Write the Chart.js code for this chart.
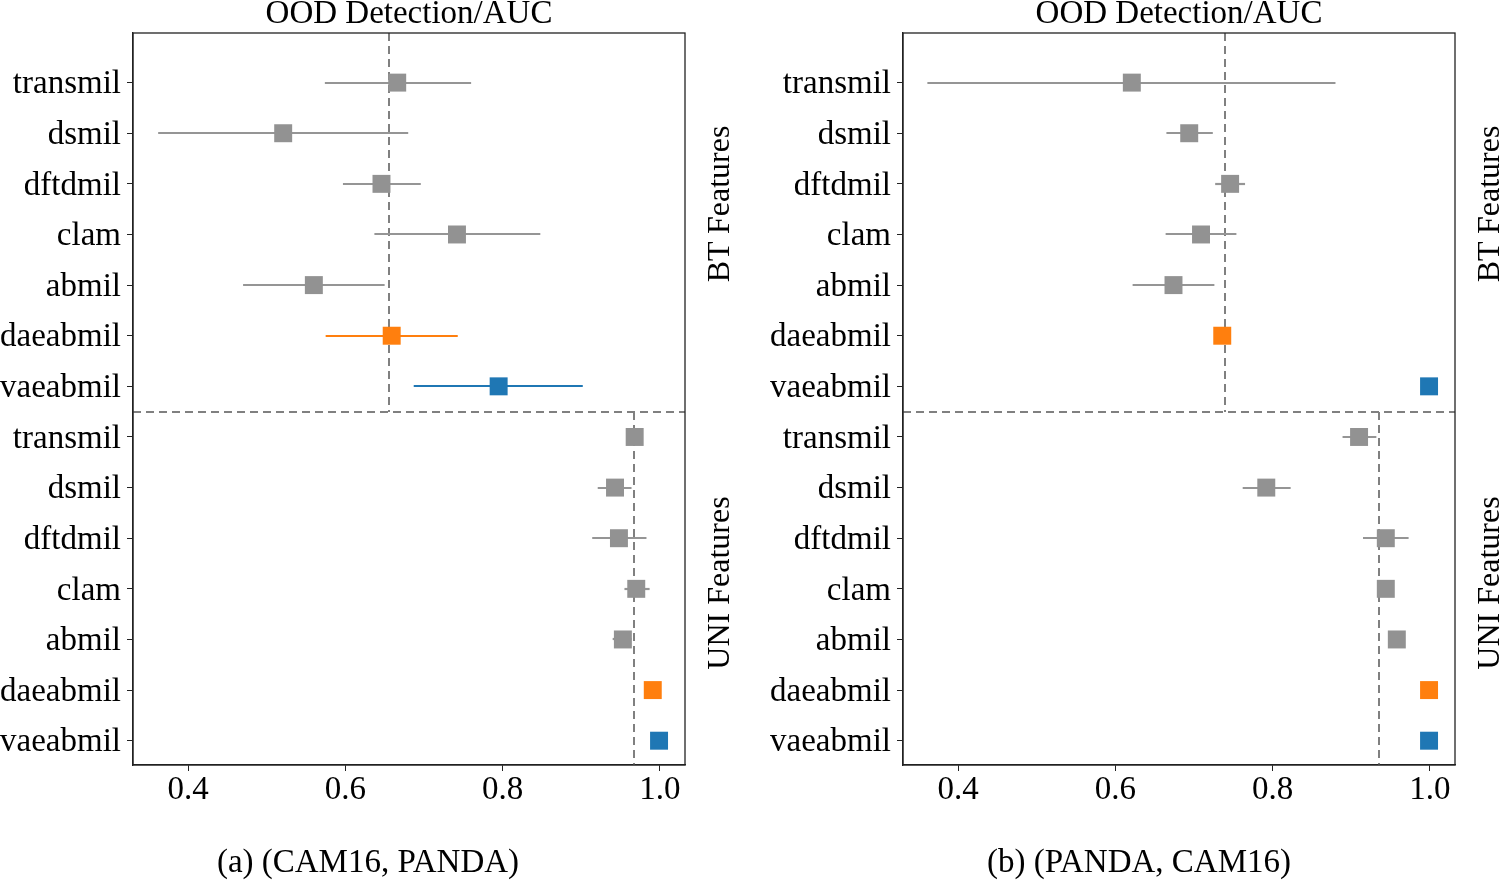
<!DOCTYPE html>
<html><head><meta charset="utf-8">
<script src="https://cdn.jsdelivr.net/npm/chart.js@4.4.0/dist/chart.umd.min.js"></script>
<style>
html,body{margin:0;padding:0;background:#fff;}
body{width:1500px;height:881px;position:relative;overflow:hidden;font-family:'Liberation Serif','Times New Roman',serif;color:#000;}
canvas{position:absolute;top:0;}
.txt{position:absolute;font-size:33px;line-height:33px;white-space:nowrap;transform:translateX(-50%);}
.side{position:absolute;font-size:32px;line-height:32px;white-space:nowrap;transform:translate(-50%,-50%) rotate(-90deg);}
</style></head><body>
<canvas id="c1" width="750" height="881" style="left:0"></canvas>
<canvas id="c2" width="730" height="881" style="left:770px"></canvas>
<div class="txt" style="left:409px;top:-4px">OOD Detection/AUC</div>
<div class="txt" style="left:1179px;top:-4px">OOD Detection/AUC</div>
<div class="txt" style="left:368px;top:845px">(a) (CAM16, PANDA)</div>
<div class="txt" style="left:1139px;top:845px">(b) (PANDA, CAM16)</div>
<div class="side" style="left:718px;top:204px">BT Features</div>
<div class="side" style="left:718px;top:583px">UNI Features</div>
<div class="side" style="left:1488px;top:204px">BT Features</div>
<div class="side" style="left:1488px;top:583px">UNI Features</div>
<script>
// ---- data ----
const models = ['transmil','dsmil','dftdmil','clam','abmil','daeabmil','vaeabmil'];
const rowLabels = models.concat(models);
const xTicks = [0.4, 0.6, 0.8, 1.0];

// panel (a) (CAM16, PANDA)
const aBTMean = [0.666, 0.521, 0.646, 0.742, 0.560, 0.659, 0.795];
const aBTLow  = [0.574, 0.362, 0.597, 0.637, 0.470, 0.575, 0.687];
const aBTHigh = [0.760, 0.680, 0.696, 0.848, 0.650, 0.743, 0.902];
const aUNIMean = [0.968, 0.943, 0.948, 0.970, 0.953, 0.991, 0.999];
const aUNILow  = [0.963, 0.921, 0.914, 0.955, 0.940, 0.991, 0.999];
const aUNIHigh = [0.972, 0.964, 0.983, 0.987, 0.964, 0.991, 0.999];
const aRefBT = 0.655;
const aRefUNI = 0.967;

// panel (b) (PANDA, CAM16)
const bBTMean = [0.621, 0.694, 0.746, 0.709, 0.674, 0.736, 0.999];
const bBTLow  = [0.361, 0.665, 0.727, 0.664, 0.622, 0.736, 0.999];
const bBTHigh = [0.880, 0.724, 0.765, 0.754, 0.726, 0.736, 0.999];
const bUNIMean = [0.910, 0.792, 0.944, 0.944, 0.958, 0.999, 0.999];
const bUNILow  = [0.889, 0.762, 0.915, 0.938, 0.953, 0.999, 0.999];
const bUNIHigh = [0.932, 0.823, 0.973, 0.950, 0.962, 0.999, 0.999];
const bRefBT = 0.740;
const bRefUNI = 0.935;

const SEP = 6.5;
const GRAY = '#929292', GRAY_LINE = '#959595', ORANGE = '#ff7f0e', BLUE = '#1f77b4';
const rowColor = i => (i % 7 === 5 ? ORANGE : (i % 7 === 6 ? BLUE : GRAY));
const lineColor = i => (i % 7 === 5 ? ORANGE : (i % 7 === 6 ? BLUE : GRAY_LINE));

function buildPoints(m1, l1, h1, m2, l2, h2) {
  const mean = m1.concat(m2), lo = l1.concat(l2), hi = h1.concat(h2);
  return mean.map((v, i) => ({x: v, y: i, lo: lo[i], hi: hi[i]}));
}

const errPlugin = {
  id: 'errbars',
  beforeDatasetsDraw(chart, args, opts) {
    const {ctx, chartArea: a, scales: {x, y}} = chart;
    ctx.save();
    ctx.beginPath(); ctx.rect(a.left, a.top, a.right - a.left, a.bottom - a.top); ctx.clip();
    // dashed reference lines
    ctx.strokeStyle = '#808080'; ctx.lineWidth = 2; ctx.setLineDash([8, 5]);
    const ys = Math.round(y.getPixelForValue(SEP));
    const ln = (x0, y0, x1, y1) => { ctx.beginPath(); ctx.moveTo(x0, y0); ctx.lineTo(x1, y1); ctx.stroke(); };
    ln(a.left, ys, a.right, ys);
    const xr1 = Math.round(x.getPixelForValue(opts.refBT));
    ln(xr1, a.top, xr1, ys);
    const xr2 = Math.round(x.getPixelForValue(opts.refUNI));
    ln(xr2, ys, xr2, a.bottom);
    ctx.setLineDash([]);
    // error bars
    ctx.lineWidth = 2.2;
    chart.data.datasets[0].data.forEach((p, i) => {
      if (p.hi - p.lo <= 0) return;
      const py = Math.round(y.getPixelForValue(p.y));
      ctx.strokeStyle = lineColor(i);
      ln(x.getPixelForValue(p.lo), py, x.getPixelForValue(p.hi), py);
    });
    ctx.restore();
  },
  afterDraw(chart) {
    const {ctx, chartArea: a} = chart;
    ctx.save();
    ctx.strokeStyle = '#222'; ctx.lineWidth = 1.3;
    ctx.strokeRect(a.left, a.top, a.right - a.left, a.bottom - a.top);
    ctx.restore();
  }
};

function makeChart(id, points, refBT, refUNI, padRight) {
  const font = {family: "'Liberation Serif', 'Times New Roman', serif", size: 33};
  return new Chart(document.getElementById(id), {
    type: 'scatter',
    data: {datasets: [{
      data: points,
      pointStyle: 'rect',
      pointRadius: 12.7,
      pointHoverRadius: 12.7,
      pointBorderWidth: 0,
      pointBackgroundColor: points.map((p, i) => rowColor(i)),
      pointBorderColor: points.map((p, i) => rowColor(i))
    }]},
    options: {
      responsive: false,
      animation: false,
      devicePixelRatio: 1,
      layout: {padding: {top: 33, right: padRight, bottom: 0, left: 0}},
      plugins: {legend: {display: false}, tooltip: {enabled: false}, errbars: {refBT, refUNI}},
      scales: {
        x: {
          type: 'linear', min: 0.33, max: 1.032,
          afterBuildTicks: ax => { ax.ticks = xTicks.map(v => ({value: v})); },
          afterFit: ax => { ax.height = 116; },
          ticks: {font, color: '#000', padding: 0, maxRotation: 0, callback: v => v.toFixed(1)},
          grid: {drawOnChartArea: false, drawTicks: true, tickLength: 6, color: '#222', lineWidth: 1},
          border: {display: true, color: '#222', width: 1.3}
        },
        y: {
          type: 'linear', min: -0.98, max: 13.48, reverse: true,
          afterBuildTicks: ax => { ax.ticks = rowLabels.map((l, i) => ({value: i})); },
          afterFit: ax => { ax.width = 133; },
          ticks: {font, color: '#000', padding: 6, labelOffset: 2, callback: v => rowLabels[v]},
          grid: {drawOnChartArea: false, drawTicks: true, tickLength: 6, color: '#222', lineWidth: 1},
          border: {display: true, color: '#222', width: 1.3}
        }
      }
    },
    plugins: [errPlugin]
  });
}

makeChart('c1', buildPoints(aBTMean, aBTLow, aBTHigh, aUNIMean, aUNILow, aUNIHigh), aRefBT, aRefUNI, 65);
makeChart('c2', buildPoints(bBTMean, bBTLow, bBTHigh, bUNIMean, bUNILow, bUNIHigh), bRefBT, bRefUNI, 45);
</script>
</body></html>
